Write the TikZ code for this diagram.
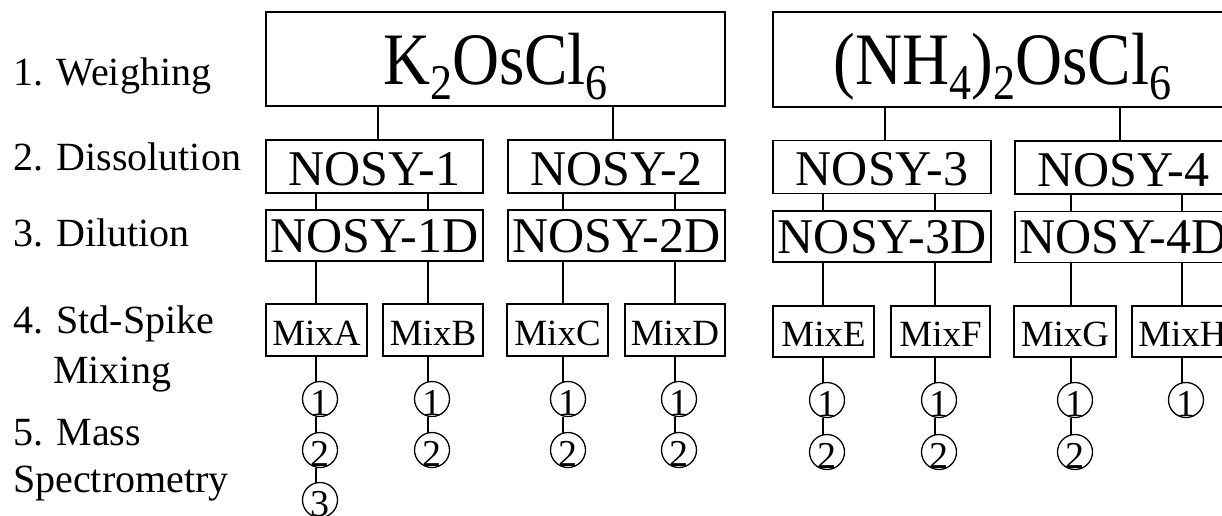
\documentclass[tikz,border=0pt]{standalone}
\usepackage{fontspec}
\setmainfont{Liberation Serif}
\usepackage{graphicx}
\newcommand{\subdig}[1]{\raisebox{-15pt}{\fontsize{50}{50}\selectfont #1}}
\newcommand{\cdig}[1]{\smash{\raisebox{-16pt}{#1}}}
\begin{document}
\begin{tikzpicture}[x=1pt,y=-1pt,
  box/.style={draw, line width=1.4pt, rectangle, inner sep=0pt, outer sep=0pt},
  topbox/.style={box, minimum width=459pt, minimum height=94pt, text height=50pt, text depth=0pt,
     font=\fontsize{74}{74}\selectfont},
  nosybox/.style={box, minimum width=217pt, minimum height=53pt, text height=37pt, text depth=0pt,
     font=\fontsize{50}{50}\selectfont},
  dilbox/.style={box, minimum width=217pt, minimum height=51pt, text height=33pt, text depth=0pt,
     font=\fontsize{50}{50}\selectfont},
  mixbox/.style={box, minimum height=52pt, text height=30pt, text depth=0pt,
     font=\fontsize{37}{37}\selectfont},
  num/.style={draw, circle, line width=1.3pt, minimum size=35pt, inner sep=0pt, outer sep=0pt,
     font=\fontsize{38}{38}\selectfont},
  conn/.style={line width=1.4pt},
  lab/.style={anchor=base west, inner sep=0pt, font=\fontsize{40}{40}\selectfont}]
\useasboundingbox (0,0) rectangle (1222,515);
\clip (0,0) rectangle (1222,515);
\fill[white] (0,0) rectangle (1222,515);

% left labels
\node[lab] (l1) at (13,85) {1. Weighing};
\node[lab] (l2) at (13,170) {2. Dissolution};
\node[lab] (l3) at (13,246) {3. Dilution};
\node[lab] (l4) at (13,333) {4. Std-Spike};
\node[lab] (l4b) at (53,383) {Mixing};
\node[lab] (l5) at (13,445) {5. Mass};
\node[lab] (l5b) at (13,492) {Spectrometry};

% column coordinates
\coordinate (t1) at (378,0);
\coordinate (t2) at (613,0);
\coordinate (t3) at (885,0);
\coordinate (t4) at (1120,0);
\coordinate (cA) at (316,0);
\coordinate (cB) at (428,0);
\coordinate (cC) at (563,0);
\coordinate (cD) at (675,0);
\coordinate (cE) at (823,0);
\coordinate (cF) at (935,0);
\coordinate (cG) at (1071,0);
\coordinate (cH) at (1182,0);

% level 1
\node[topbox] (k) at (495.5,59) {\scalebox{0.88}[1]{K\subdig{2}OsCl\subdig{6}}};
\node[topbox, minimum height=95pt] (nh) at (1002.5,59.5) {\scalebox{0.88}[1]{(NH\subdig{4})\subdig{2}OsCl\subdig{6}}};

% level 2
\node[nosybox] (n1) at (374.5,166.5) {NOSY-1};
\node[nosybox] (n2) at (616.5,166.5) {NOSY-2};
\node[nosybox, minimum width=218pt] (n3) at (882,167) {NOSY-3};
\node[nosybox] (n4) at (1123.5,167.5) {NOSY-4};

% level 3
\node[dilbox] (n1d) at (374.5,235.5) {NOSY-1D};
\node[dilbox] (n2d) at (616.5,235.5) {NOSY-2D};
\node[dilbox, minimum width=218pt] (n3d) at (882,236.5) {NOSY-3D};
\node[dilbox] (n4d) at (1123.5,237) {NOSY-4D};

% level 4
\node[mixbox, minimum width=101pt] (mA) at (316.5,330) {MixA};
\node[mixbox, minimum width=100pt] (mB) at (433,330) {MixB};
\node[mixbox, minimum width=101pt] (mC) at (557.5,330) {MixC};
\node[mixbox, minimum width=100pt] (mD) at (675,330) {MixD};
\node[mixbox, minimum width=101pt, minimum height=51pt] (mE) at (823.5,331.5) {MixE};
\node[mixbox, minimum width=99pt, minimum height=51pt] (mF) at (940.5,331.5) {MixF};
\node[mixbox, minimum width=102pt, minimum height=51pt] (mG) at (1065,331.5) {MixG};
\node[mixbox, minimum width=101pt, minimum height=51pt] (mH) at (1182.5,331.5) {MixH};

% level 5 circles
\node[num] (a1) at (320,399) {\cdig{1}};
\node[num] (a2) at (320,450) {\cdig{2}};
\node[num] (a3) at (320,500) {\cdig{3}};
\node[num] (b1) at (432,399) {\cdig{1}};
\node[num] (b2) at (432,450) {\cdig{2}};
\node[num] (c1) at (568,399) {\cdig{1}};
\node[num] (c2) at (568,450) {\cdig{2}};
\node[num] (d1) at (679,399) {\cdig{1}};
\node[num] (d2) at (679,450) {\cdig{2}};
\node[num] (e1) at (827,400) {\cdig{1}};
\node[num] (e2) at (827,452) {\cdig{2}};
\node[num] (f1) at (939,400) {\cdig{1}};
\node[num] (f2) at (939,452) {\cdig{2}};
\node[num] (g1) at (1075,400) {\cdig{1}};
\node[num] (g2) at (1075,452) {\cdig{2}};
\node[num] (h1) at (1186,400) {\cdig{1}};

% connectors level 1 -> 2
\draw[conn] (k.south -| t1) -- (n1.north -| t1);
\draw[conn] (k.south -| t2) -- (n2.north -| t2);
\draw[conn] (nh.south -| t3) -- (n3.north -| t3);
\draw[conn] (nh.south -| t4) -- (n4.north -| t4);

% level 2 -> 3
\draw[conn] (n1.south -| cA) -- (n1d.north -| cA);
\draw[conn] (n1.south -| cB) -- (n1d.north -| cB);
\draw[conn] (n2.south -| cC) -- (n2d.north -| cC);
\draw[conn] (n2.south -| cD) -- (n2d.north -| cD);
\draw[conn] (n3.south -| cE) -- (n3d.north -| cE);
\draw[conn] (n3.south -| cF) -- (n3d.north -| cF);
\draw[conn] (n4.south -| cG) -- (n4d.north -| cG);
\draw[conn] (n4.south -| cH) -- (n4d.north -| cH);

% level 3 -> 4
\draw[conn] (n1d.south -| cA) -- (mA.north -| cA);
\draw[conn] (n1d.south -| cB) -- (mB.north -| cB);
\draw[conn] (n2d.south -| cC) -- (mC.north -| cC);
\draw[conn] (n2d.south -| cD) -- (mD.north -| cD);
\draw[conn] (n3d.south -| cE) -- (mE.north -| cE);
\draw[conn] (n3d.south -| cF) -- (mF.north -| cF);
\draw[conn] (n4d.south -| cG) -- (mG.north -| cG);
\draw[conn] (n4d.south -| cH) -- (mH.north -| cH);

% level 4 -> 5
\draw[conn] (mA.south -| cA) -- (a1.north -| cA);
\draw[conn] (a1.south -| cA) -- (a2.north -| cA);
\draw[conn] (a2.south -| cA) -- (a3.north -| cA);
\draw[conn] (mB.south -| cB) -- (b1.north -| cB);
\draw[conn] (b1.south -| cB) -- (b2.north -| cB);
\draw[conn] (mC.south -| cC) -- (c1.north -| cC);
\draw[conn] (c1.south -| cC) -- (c2.north -| cC);
\draw[conn] (mD.south -| cD) -- (d1.north -| cD);
\draw[conn] (d1.south -| cD) -- (d2.north -| cD);
\draw[conn] (mE.south -| cE) -- (e1.north -| cE);
\draw[conn] (e1.south -| cE) -- (e2.north -| cE);
\draw[conn] (mF.south -| cF) -- (f1.north -| cF);
\draw[conn] (f1.south -| cF) -- (f2.north -| cF);
\draw[conn] (mG.south -| cG) -- (g1.north -| cG);
\draw[conn] (g1.south -| cG) -- (g2.north -| cG);
\draw[conn] (mH.south -| cH) -- (h1.north -| cH);
\end{tikzpicture}
\end{document}
